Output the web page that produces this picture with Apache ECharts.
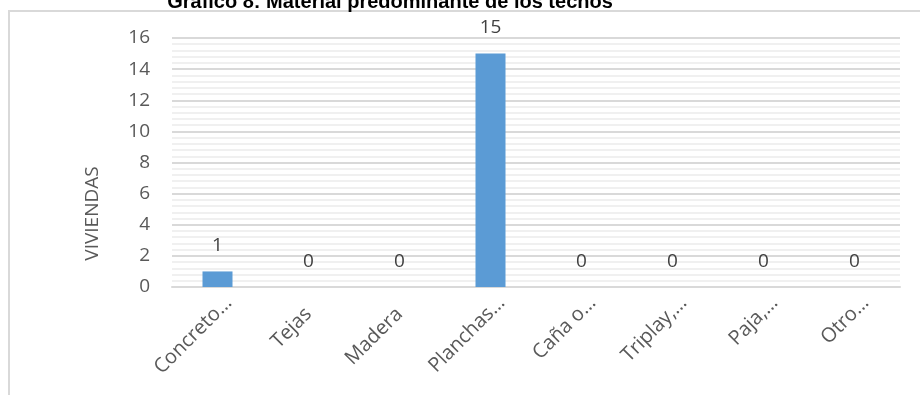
<!DOCTYPE html>
<html>
<head>
<meta charset="utf-8">
<script src="https://cdn.jsdelivr.net/npm/echarts@6/dist/echarts.min.js"></script>
<style>
    html, body { margin: 0; padding: 0; background: #fff; }
    #techos { width: 920px; height: 395px; }
</style>
</head>
<body>
<div id="techos"></div>
<script>
    // datos
    const titulo = 'Gráfico 8: Material predominante de los techos'
    const materiales = ['Concreto…', 'Tejas', 'Madera', 'Planchas…', 'Caña o…', 'Triplay,…', 'Paja,…', 'Otro…']
    const viviendas = [1, 0, 0, 15, 0, 0, 0, 0]
    const ejeY = { min: 0, max: 16, interval: 2 }

    // las etiquetas recortadas (con …) quedan algo mas arriba a la derecha
    const categorias = materiales.map(m => m.endsWith('…')
        ? { value: m, textStyle: { padding: [0, -16, 0, 0] } }
        : m)

    const chart = echarts.init(document.getElementById('techos'))
    const options = {
        backgroundColor: '#ffffff',
        animation: false,
        textStyle: { fontFamily: 'Open Sans, sans-serif' },
        title: {
            text: titulo,
            left: 385,
            textAlign: 'center',
            top: -13,
            textStyle: {
                fontFamily: 'Liberation Sans',
                fontWeight: 'bold',
                fontSize: 20,
                color: '#000'
            }
        },
        graphic: [
            { type: 'line', shape: { x1: 8, y1: 11, x2: 920, y2: 11 }, style: { stroke: '#d9d9d9', lineWidth: 2 } },
            { type: 'line', shape: { x1: 9, y1: 11, x2: 9, y2: 395 }, style: { stroke: '#d9d9d9', lineWidth: 2 } }
        ],
        grid: {
            left: 172,
            right: 20,
            top: 38,
            bottom: 108
        },
        xAxis: {
            type: 'category',
            data: categorias,
            axisTick: { show: false },
            axisLine: { lineStyle: { color: '#d9d9d9', width: 2 } },
            axisLabel: {
                rotate: 45,
                interval: 0,
                margin: 24,
                color: '#595959',
                fontSize: 20,
                fontFamily: 'Open Sans'
            }
        },
        yAxis: {
            type: 'value',
            min: ejeY.min,
            max: ejeY.max,
            interval: ejeY.interval,
            name: 'VIVIENDAS',
            nameLocation: 'middle',
            nameGap: 70,
            nameTextStyle: { color: '#595959', fontSize: 19, fontFamily: 'Open Sans', padding: [0, 102, 0, 0] },
            axisLine: { show: false },
            axisTick: { show: false },
            axisLabel: { color: '#595959', fontSize: 19, margin: 22, fontFamily: 'Open Sans' },
            splitLine: { lineStyle: { color: '#d9d9d9', width: 2 } },
            minorTick: { show: false, splitNumber: 5 },
            minorSplitLine: { show: true, lineStyle: { color: '#f0f0f0', width: 2 } }
        },
        series: [
            {
                name: 'Viviendas',
                type: 'bar',
                data: viviendas,
                barWidth: 30,
                itemStyle: { color: '#5b9bd5' },
                label: {
                    show: true,
                    position: 'top',
                    distance: 16,
                    color: '#404040',
                    fontSize: 19,
                    fontFamily: 'Open Sans'
                }
            }
        ]
    }
    chart.setOption(options)
</script>
</body>
</html>
